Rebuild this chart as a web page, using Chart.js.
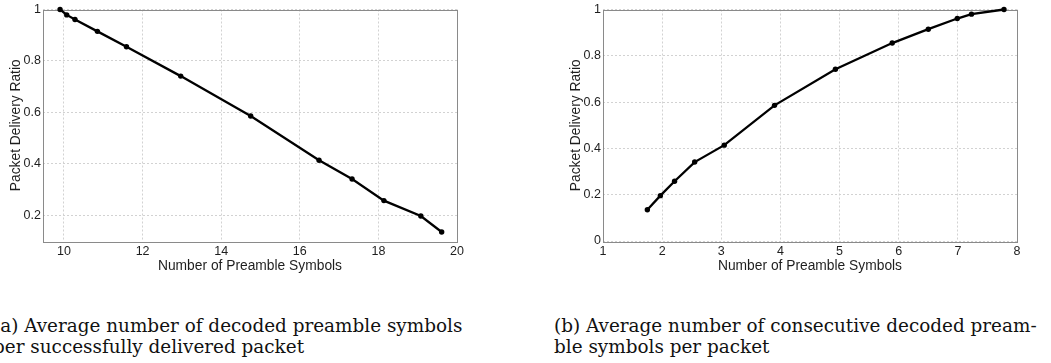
<!DOCTYPE html>
<html>
<head>
<meta charset="utf-8">
<script src="https://cdn.jsdelivr.net/npm/chart.js@4.4.1/dist/chart.umd.min.js"></script>
<style>
  html, body { margin: 0; padding: 0; background: #fff; width: 1051px; height: 363px; overflow: hidden; }
  .wrap { position: absolute; top: 0; width: 480px; height: 290px; }
  canvas { display: block; }
  .cap { position: absolute; font-family: "DejaVu Serif", serif; font-size: 18.4px; line-height: 21.6px; color: #111; white-space: nowrap; }
</style>
</head>
<body>
<div class="wrap" style="left:0px"><canvas id="ca" width="480" height="290"></canvas></div>
<div class="wrap" style="left:560px"><canvas id="cb" width="480" height="290"></canvas></div>
<div class="cap" style="left:-7px; top:314.5px">(a) Average number of decoded preamble symbols<br>per successfully delivered packet</div>
<div class="cap" style="left:554px; top:314.5px">(b) Average number of consecutive decoded pream-<br>ble symbols per packet</div>
<script>
// ---- data ----
const ratioA = [1.0, 0.979, 0.961, 0.915, 0.855, 0.741, 0.586, 0.414, 0.341, 0.257, 0.197, 0.135];
const symbolsA = [9.90, 10.07, 10.28, 10.85, 11.59, 12.97, 14.75, 16.49, 17.33, 18.14, 19.08, 19.61];
const ratioB = [0.135, 0.196, 0.258, 0.341, 0.414, 0.586, 0.742, 0.855, 0.915, 0.961, 0.980, 1.0];
const symbolsB = [1.75, 1.97, 2.21, 2.55, 3.05, 3.90, 4.93, 5.89, 6.50, 6.99, 7.23, 7.78];
const xTicksA = [10, 12, 14, 16, 18, 20];
const yTicksA = [0.2, 0.4, 0.6, 0.8, 1];
const xTicksB = [1, 2, 3, 4, 5, 6, 7, 8];
const yTicksB = [0, 0.2, 0.4, 0.6, 0.8, 1];
const xTitle = 'Number of Preamble Symbols';
const yTitle = 'Packet Delivery Ratio';

const TICK_FONT = { family: '"Liberation Sans", Arial, sans-serif', size: 12.5 };
const TITLE_FONT = { family: '"Liberation Sans", Arial, sans-serif', size: 13.8 };
const TEXT = '#1e1e1e';
const GRID = '#d2d2d2';

const boxPlugin = {
  id: 'box',
  beforeDatasetsDraw(chart) {
    const { ctx, chartArea: a } = chart;
    ctx.save();
    ctx.strokeStyle = '#8a8a8a';
    ctx.lineWidth = 1;
    ctx.strokeRect(Math.round(a.left) + 0.5, Math.round(a.top) + 0.5,
                   Math.round(a.right - a.left), Math.round(a.bottom - a.top));
    ctx.restore();
  }
};

function makeChart(id, xs, ys, xTicks, yTicks, xMin, xMax, yMin, yMax) {
  const pts = xs.map((x, i) => ({ x: x, y: ys[i] }));
  return new Chart(document.getElementById(id), {
    type: 'line',
    data: { datasets: [{
      data: pts,
      borderColor: '#000',
      backgroundColor: '#000',
      borderWidth: 2.3,
      pointRadius: 2.7,
      pointBorderWidth: 0,
      pointBackgroundColor: '#000',
      tension: 0,
      clip: false
    }]},
    options: {
      responsive: false,
      animation: false,
      devicePixelRatio: 1,
      layout: { padding: { top: 9, right: 23, left: 0, bottom: 0 } },
      plugins: { legend: { display: false }, tooltip: { enabled: false } },
      scales: {
        x: {
          type: 'linear', min: xMin, max: xMax,
          afterBuildTicks: s => { s.ticks = xTicks.map(v => ({ value: v })); },
          afterFit: s => { s.height = 49; },
          grid: { color: GRID, drawTicks: false, lineWidth: 1 },
          border: { display: false, dash: [2, 2] },
          ticks: { color: TEXT, font: TICK_FONT, padding: 3, maxRotation: 0, autoSkip: false,
                   callback: v => String(v) },
          title: { display: true, text: xTitle, color: TEXT, font: TITLE_FONT, padding: { top: 0, bottom: 16 } }
        },
        y: {
          type: 'linear', min: yMin, max: yMax,
          afterBuildTicks: s => { s.ticks = yTicks.map(v => ({ value: v })); },
          afterFit: s => { s.width = 43; },
          grid: { color: GRID, drawTicks: false, lineWidth: 1 },
          border: { display: false, dash: [2, 2] },
          ticks: { color: TEXT, font: TICK_FONT, padding: 2, autoSkip: false,
                   callback: v => String(v) },
          title: { display: true, text: yTitle, color: TEXT, font: TITLE_FONT, padding: { top: 8, bottom: 0 } }
        }
      }
    },
    plugins: [boxPlugin]
  });
}

makeChart('ca', symbolsA, ratioA, xTicksA, yTicksA, 9.466, 20, 0.1, 1);
makeChart('cb', symbolsB, ratioB, xTicksB, yTicksB, 1, 8, 0, 1);
</script>
</body>
</html>
